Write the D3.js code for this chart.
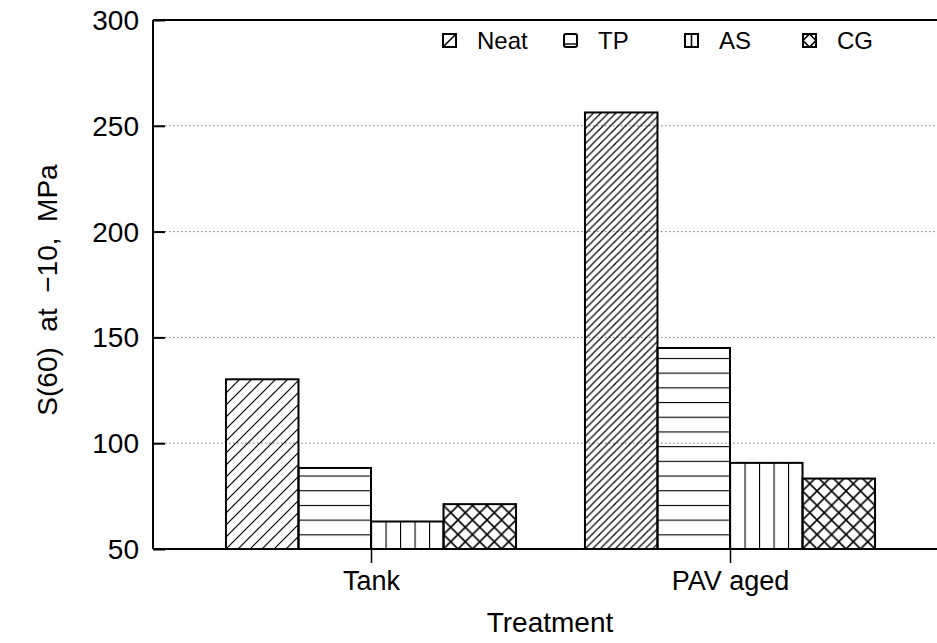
<!DOCTYPE html>
<html>
<head>
<meta charset="utf-8">
<script src="https://cdn.jsdelivr.net/npm/d3@7/dist/d3.min.js"></script>
<style>
  html, body { margin: 0; padding: 0; background: #fff; }
  svg { display: block; }
  text { font-family: "Liberation Sans", Arial, sans-serif; fill: #000; white-space: pre; }
</style>
</head>
<body>
<svg id="chart" width="937" height="643"></svg>
<script>
// Treatment groups and binder series
const categories = ["Tank", "PAV aged"];
const seriesNames = ["Neat", "TP", "AS", "CG"];
// S(60) at -10 °C, MPa, one array per series (Tank, PAV aged)
const neatValues = [130.2, 256.3];
const tpValues = [88.3, 145];
const asValues = [63, 90.7];
const cgValues = [71.2, 83.3];
const yTicks = [50, 100, 150, 200, 250, 300];

const seriesValues = [neatValues, tpValues, asValues, cgValues];
const bars = [];
categories.forEach((c, ci) => {
  seriesNames.forEach((s, si) => {
    bars.push({ cat: c, series: s, value: seriesValues[si][ci], ci, si });
  });
});

const svg = d3.select("#chart");
const plotLeft = 153, plotRight = 937, plotTop = 20, plotBottom = 549;

const y = d3.scaleLinear().domain([50, 300]).range([plotBottom, plotTop]);
const x0 = d3.scaleBand().domain(categories).range([191.5, 909.5])
  .paddingInner(0.192).paddingOuter(0.096);
const x1 = d3.scaleBand().domain(seriesNames).range([0, x0.bandwidth()]);

const defs = svg.append("defs");

// Hatch density of the diagonal fill differs per bar
const diagSpacing = { "Tank": 12, "PAV aged": 7.5 };

function makePattern(d, i) {
  const bx = x0(d.cat) + x1(d.series);
  const id = "pat" + i;
  const p = defs.append("pattern").attr("id", id)
    .attr("patternUnits", "userSpaceOnUse");
  if (d.series === "Neat") {
    const s = diagSpacing[d.cat];
    p.attr("width", s).attr("height", s).attr("x", bx).attr("y", plotBottom);
    p.append("path")
      .attr("d", `M0,${s} L${s},0 M${-s/2},${s/2} L${s/2},${-s/2} M${s/2},${1.5*s} L${1.5*s},${s/2}`)
      .attr("stroke", "#000").attr("stroke-width", 1.2).attr("fill", "none");
  } else if (d.series === "TP") {
    const s = 14.7;
    p.attr("width", 20).attr("height", s).attr("x", bx).attr("y", plotBottom);
    p.append("line").attr("x1", 0).attr("x2", 20).attr("y1", 0).attr("y2", 0)
      .attr("stroke", "#000").attr("stroke-width", 2.2);
  } else if (d.series === "AS") {
    const s = x1.bandwidth() / 5;
    p.attr("width", s).attr("height", 20).attr("x", bx).attr("y", plotBottom);
    p.append("line").attr("x1", 0).attr("x2", 0).attr("y1", 0).attr("y2", 20)
      .attr("stroke", "#000").attr("stroke-width", 2.2);
  } else {
    const s = x1.bandwidth() / 5;
    p.attr("width", s).attr("height", s).attr("x", bx).attr("y", plotBottom);
    p.append("path")
      .attr("d", `M0,0 L${s},${s} M0,${s} L${s},0`)
      .attr("stroke", "#000").attr("stroke-width", 1.6).attr("fill", "none");
  }
  return "url(#" + id + ")";
}

// Dotted gridlines
svg.append("g").selectAll("line").data(yTicks.filter(t => t > 50 && t < 300)).join("line")
  .attr("x1", plotLeft).attr("x2", plotRight)
  .attr("y1", d => y(d)).attr("y2", d => y(d))
  .attr("stroke", "#777").attr("stroke-width", 1).attr("stroke-dasharray", "1.5,2.5");

// Bars
svg.append("g").selectAll("rect").data(bars).join("rect")
  .attr("x", d => x0(d.cat) + x1(d.series))
  .attr("y", d => y(d.value))
  .attr("width", x1.bandwidth())
  .attr("height", d => y(50) - y(d.value))
  .attr("fill", (d, i) => makePattern(d, i))
  .attr("stroke", "#000").attr("stroke-width", 2);

// Frame: left axis, top line, bottom axis
svg.append("line").attr("x1", plotLeft).attr("x2", plotLeft).attr("y1", plotTop).attr("y2", plotBottom)
  .attr("stroke", "#000").attr("stroke-width", 2);
svg.append("line").attr("x1", plotLeft).attr("x2", plotRight).attr("y1", plotTop).attr("y2", plotTop)
  .attr("stroke", "#000").attr("stroke-width", 2);
svg.append("line").attr("x1", plotLeft).attr("x2", plotRight).attr("y1", plotBottom).attr("y2", plotBottom)
  .attr("stroke", "#000").attr("stroke-width", 2);

// Y axis with inward ticks
const yAxis = d3.axisRight(y).tickValues(yTicks).tickSize(12).tickFormat("");
const yg = svg.append("g").attr("transform", `translate(${plotLeft},0)`).call(yAxis);
yg.select(".domain").remove();
yg.selectAll(".tick line").attr("stroke", "#000").attr("stroke-width", 2);
svg.append("g").selectAll("text").data(yTicks).join("text")
  .attr("x", plotLeft - 14).attr("y", d => y(d) + 10)
  .attr("text-anchor", "end").attr("font-size", 28)
  .text(d => d);

// X axis: category ticks below the axis line
const xAxis = d3.axisBottom(d3.scaleOrdinal().domain(categories)
  .range(categories.map(c => x0(c) + x0.bandwidth() / 2))).tickSize(14);
const xg = svg.append("g").attr("transform", `translate(0,${plotBottom})`).call(xAxis);
xg.select(".domain").remove();
xg.selectAll(".tick line").attr("stroke", "#000").attr("stroke-width", 1.5);
xg.selectAll(".tick text").attr("font-size", 27).attr("font-family", null)
  .attr("y", 41).attr("dy", null).attr("fill", "#000");

// Axis titles
svg.append("text").attr("x", 550).attr("y", 632).attr("text-anchor", "middle")
  .attr("font-size", 28).text("Treatment");
svg.append("text").attr("transform", "translate(57,290) rotate(-90)")
  .attr("text-anchor", "middle").attr("font-size", 28)
  .text("S(60)  at  \u221210,  MPa");

// Legend
const legendX = [443, 564, 685, 803];
const lg = svg.append("g");
seriesNames.forEach((s, i) => {
  const bx = legendX[i], by = 34, sz = 13;
  const g = lg.append("g");
  g.append("rect").attr("x", bx).attr("y", by).attr("width", sz).attr("height", sz)
    .attr("fill", "#fff").attr("stroke", "#000").attr("stroke-width", 2).attr("rx", s === "TP" ? 2 : 0);
  if (s === "Neat") {
    g.append("line").attr("x1", bx).attr("y1", by + sz).attr("x2", bx + sz).attr("y2", by)
      .attr("stroke", "#000").attr("stroke-width", 1.6);
  } else if (s === "TP") {
    g.append("line").attr("x1", bx).attr("x2", bx + sz).attr("y1", by + sz - 3).attr("y2", by + sz - 3)
      .attr("stroke", "#000").attr("stroke-width", 1.4);
  } else if (s === "AS") {
    g.append("line").attr("x1", bx + sz / 2).attr("x2", bx + sz / 2).attr("y1", by).attr("y2", by + sz)
      .attr("stroke", "#000").attr("stroke-width", 1.6);
  } else {
    g.append("path").attr("d", `M${bx},${by + sz/2} L${bx + sz/2},${by} L${bx + sz},${by + sz/2} L${bx + sz/2},${by + sz} Z`)
      .attr("fill", "none").attr("stroke", "#000").attr("stroke-width", 1.6);
  }
  g.append("text").attr("x", bx + 34).attr("y", by + 15).attr("font-size", 24).text(s);
});
</script>
</body>
</html>
